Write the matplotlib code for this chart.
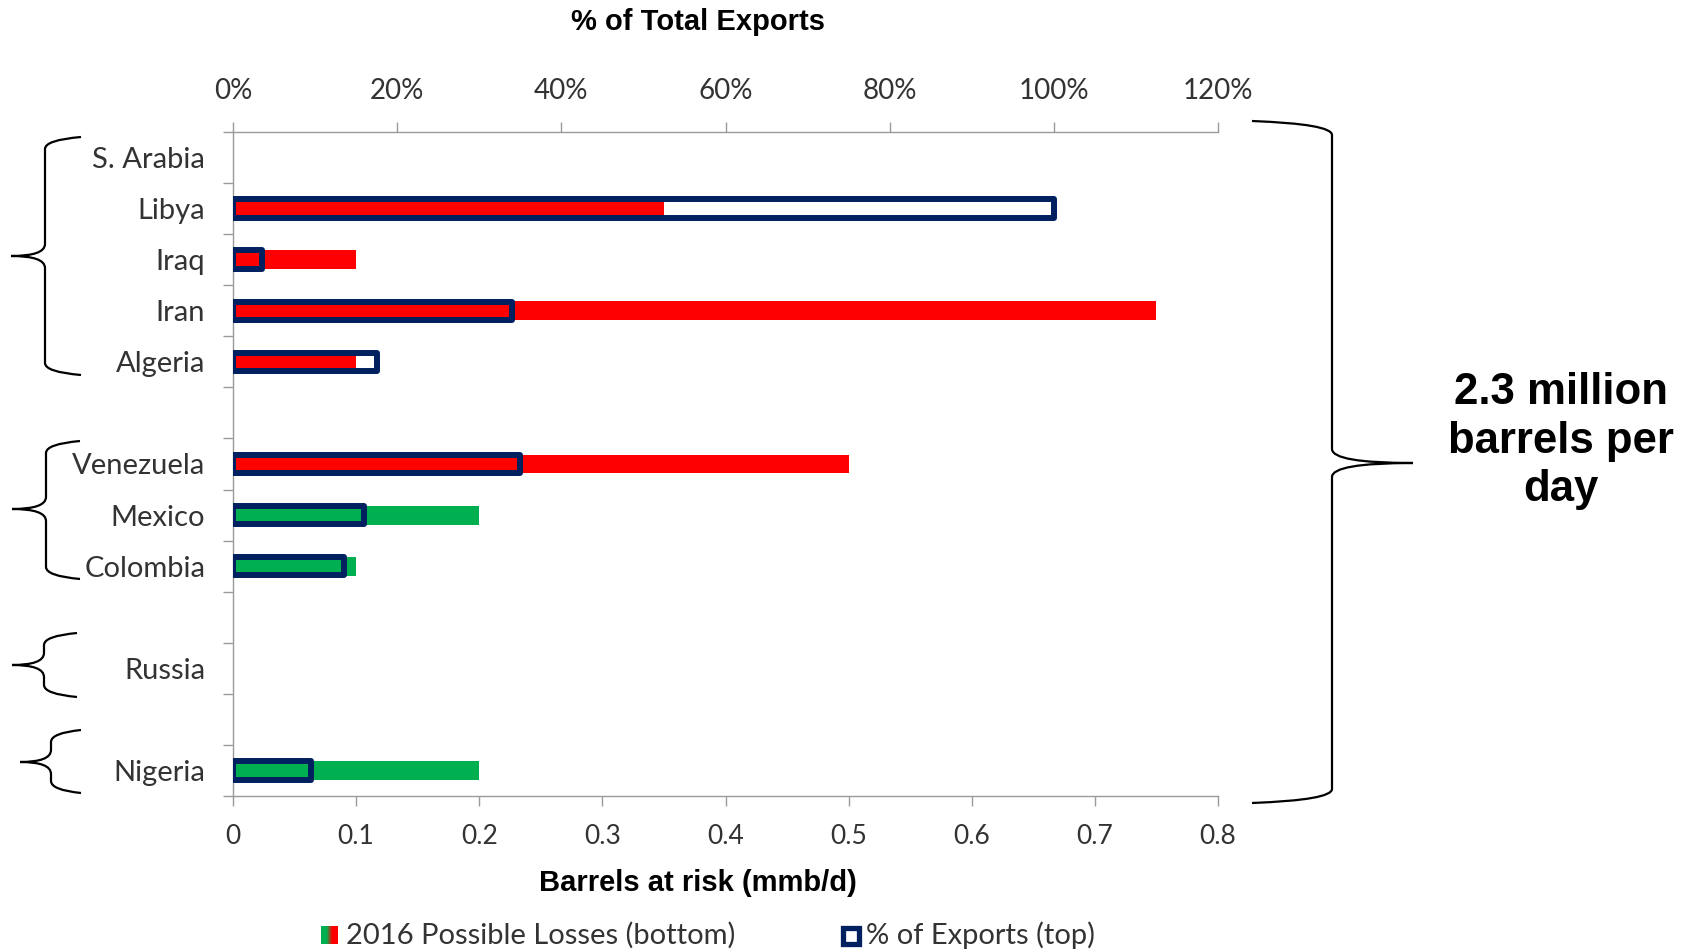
import numpy as np
import matplotlib.pyplot as plt
from matplotlib.path import Path
from matplotlib.patches import PathPatch, Rectangle
from matplotlib.colors import LinearSegmentedColormap
from matplotlib.ticker import PercentFormatter

# data
countries = ['S. Arabia', 'Libya', 'Iraq', 'Iran', 'Algeria',
             'Venezuela', 'Mexico', 'Colombia', 'Russia', 'Nigeria']
group_sizes = [5, 3, 1, 1]
losses = [0, 0.35, 0.10, 0.75, 0.10, 0.50, 0.20, 0.10, 0, 0.20]      # mmb/d
pct_exports = [0, 100, 3.5, 34, 17.5, 35, 16, 13.5, 0, 9.5]          # % of total exports
risk = ['high', 'high', 'high', 'high', 'high', 'high', 'low', 'low', 'low', 'low']

RED = '#FF0000'
GREEN = '#00B050'
NAVY = '#002060'
GREY = '#9a9a9a'
TXT = '#333333'
risk_color = {'high': RED, 'low': GREEN}

W, H = 1689, 952
fig = plt.figure(figsize=(W / 100, H / 100), dpi=100)


def fx(px):
    return px / W


def fy(py):
    return 1 - py / H


# slot positions, one empty slot between groups
pos = []
s = 0
for g in group_sizes:
    for i in range(g):
        pos.append(s)
        s += 1
    s += 1
n_slots = s - 1

ax = fig.add_axes([fx(233), fy(796), fx(1218) - fx(233), fy(132) - fy(796)])
ax2 = ax.twiny()

keep = [i for i in range(len(countries)) if losses[i] > 0]
ax.barh([pos[i] for i in keep], [losses[i] for i in keep], height=0.37,
        color=[risk_color[risk[i]] for i in keep], zorder=2)

keep2 = [i for i in range(len(countries)) if pct_exports[i] > 0]
ax2.barh([pos[i] for i in keep2], [pct_exports[i] for i in keep2], height=0.36,
         facecolor='none', edgecolor=NAVY, linewidth=4.3, joinstyle='round', zorder=3)

ax.set_ylim(n_slots - 0.5, -0.5)
ax.set_xlim(0, 0.8)
ax2.set_xlim(0, 120)

ax.set_xticks(np.arange(0, 0.81, 0.1))
ax.set_xticklabels(['0'] + ['%.1f' % v for v in np.arange(0.1, 0.81, 0.1)])
ax2.set_xticks(np.arange(0, 121, 20))
ax2.xaxis.set_major_formatter(PercentFormatter(100, decimals=0))

ax.set_yticks(pos)
ax.set_yticklabels(countries)
ax.set_yticks(np.arange(-0.5, n_slots, 1.0), minor=True)
ax.tick_params(axis='y', which='major', length=0, pad=20, labelsize=21, labelcolor=TXT)
ax.tick_params(axis='y', which='minor', length=7, width=1, color=GREY)
ax.tick_params(axis='x', length=7, width=1, color=GREY, pad=13, labelsize=19, labelcolor=TXT)
ax2.tick_params(axis='x', length=7, width=1, color=GREY, pad=13, labelsize=20, labelcolor=TXT)

for a in (ax, ax2):
    for sp in a.spines.values():
        sp.set_color(GREY)
        sp.set_linewidth(1)
    a.spines['right'].set_visible(False)
ax.spines['top'].set_visible(False)
ax2.spines['left'].set_visible(False)
ax2.spines['bottom'].set_visible(False)

for t in ax.get_xticklabels() + ax.get_yticklabels() + ax2.get_xticklabels():
    t.set_family('Lato')

fig.text(fx(698), fy(22), '% of Total Exports', ha='center', va='center',
         fontsize=21, fontweight='bold', family='Liberation Sans')
fig.text(fx(698), fy(883), 'Barrels at risk (mmb/d)', ha='center', va='center',
         fontsize=21, fontweight='bold', family='Liberation Sans')
fig.text(fx(1561), fy(441), '2.3 million\nbarrels per\nday', ha='center', va='center',
         fontsize=31.5, fontweight='bold', family='Liberation Sans', linespacing=1.22)


# curly braces drawn in pixel coordinates
def brace(x_end, x_sp, x_tip, y_top, y_tip, y_bot, r=12):
    pts = [(x_end, y_top), (x_sp, y_top + 3), (x_sp, y_top + r),
           (x_sp, y_tip - r), (x_sp, y_tip), (x_tip, y_tip),
           (x_sp, y_tip), (x_sp, y_tip + r),
           (x_sp, y_bot - r), (x_sp, y_bot - 3), (x_end, y_bot)]
    codes = [Path.MOVETO, Path.CURVE3, Path.CURVE3,
             Path.LINETO, Path.CURVE3, Path.CURVE3,
             Path.CURVE3, Path.CURVE3,
             Path.LINETO, Path.CURVE3, Path.CURVE3]
    verts = [(fx(x), fy(y)) for x, y in pts]
    fig.add_artist(PathPatch(Path(verts, codes), facecolor='none', edgecolor='black',
                             linewidth=1.6, transform=fig.transFigure))


brace(81, 45, 11, 137, 256, 375)
brace(80, 46, 12, 441, 509, 579)
brace(77, 44, 12, 633, 665, 697)
brace(81, 51, 20, 730, 762, 793)
brace(1252, 1332, 1413, 121, 463, 803, r=14)

# legend
cmap = LinearSegmentedColormap.from_list('rg', [GREEN, GREEN, RED, RED])
lax = fig.add_axes([fx(321), fy(944), 17 / W, 18 / H])
lax.imshow(np.linspace(0, 1, 32).reshape(1, -1), cmap=cmap, aspect='auto')
lax.axis('off')
fig.text(fx(346), fy(935), '2016 Possible Losses (bottom)', ha='left', va='center',
         fontsize=21, family='Lato', color=TXT)
fig.add_artist(Rectangle((fx(843), fy(944)), 16 / W, 16 / H, facecolor='white',
                         edgecolor=NAVY, linewidth=3.8, transform=fig.transFigure))
fig.text(fx(866), fy(935), '% of Exports (top)', ha='left', va='center',
         fontsize=21, family='Lato', color=TXT)

fig.savefig('out.png', dpi=100)
